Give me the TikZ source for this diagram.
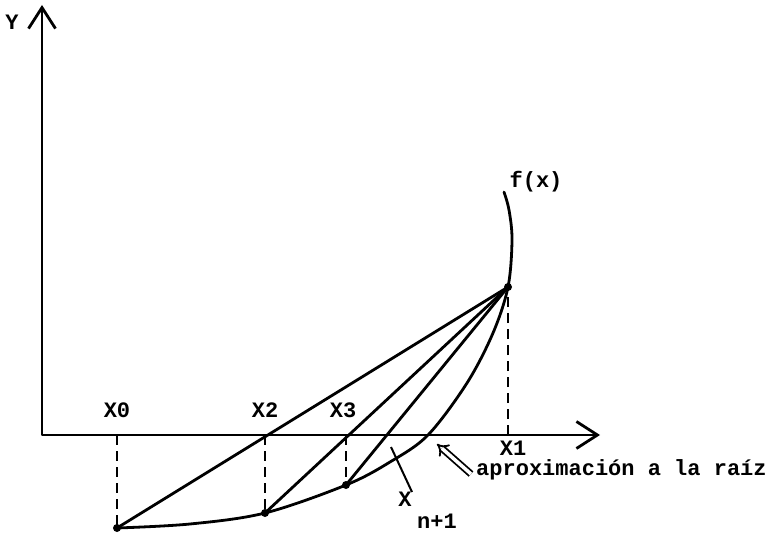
\documentclass[tikz,border=0pt]{standalone}
\usepackage{fontspec}
\setmonofont{Liberation Mono}
\usetikzlibrary{arrows.meta}
\begin{document}
\begin{tikzpicture}[x=1pt,y=-1pt,
  ln/.style={line width=2.8pt, line cap=round, line join=round},
  dsh/.style={line width=2.8pt, dash pattern=on 10pt off 6pt},
  lbl/.style={font=\ttfamily\bfseries\fontsize{22}{25}\selectfont, inner sep=0pt},
  pt/.style={circle, fill, inner sep=0pt, minimum size=8pt},
  barb/.tip={Straight Barb[length=21pt,width=27pt]}]
\useasboundingbox (0,0) rectangle (770,537);
% axes
\coordinate (O) at (42,435);
\coordinate (Ytop) at (42,5);
\coordinate (Xend) at (600,435);
\draw[ln, barb-barb] (Ytop) -- (O) -- (Xend);
% points
\node[pt] (P) at (508,287) {};
\node[pt] (B0) at (117,528) {};
\node[pt] (B2) at (265,513) {};
\node[pt] (B3) at (346,485) {};
\coordinate (A0) at (117,435);
\coordinate (A2) at (265,435);
\coordinate (A3) at (346,435);
\coordinate (A1) at (508,435);
% curve
\draw[ln] plot[smooth, tension=0.55] coordinates {(117,528) (190,524) (265,513) (346,485) (390,462) (428,435) (467,383) (493,333) (508,287) (512,240) (509,210) (504,192)};
% chords
\draw[ln] (P.center) -- (B0.center);
\draw[ln] (P.center) -- (B2.center);
\draw[ln] (P.center) -- (B3.center);
% dashed verticals
\draw[dsh] (A0) -- (B0.center);
\draw[dsh] (A2) -- (B2.center);
\draw[dsh] (A3) -- (B3.center);
\draw[dsh] (A1) -- (P.center);
% labels
\node[lbl] (lY) at (12,22) {Y};
\node[lbl] (lX0) at (117,410) {X0};
\node[lbl] (lX2) at (265,410) {X2};
\node[lbl] (lX3) at (343,410) {X3};
\node[lbl] (lX1) at (513,448) {X1};
\node[lbl] (lfx) at (536,182) {f(x)};
\node[lbl] (lXn) at (405,499) {X};
\node[lbl] (lXs) at (437,521) {n+1};
\node[lbl, anchor=west] (lap) at (476,470) {aproximación a la raíz};
% leader
\coordinate (L1) at (391,447);
\coordinate (L2) at (412,492);
\draw[line width=2pt] (L1) -- (L2);
% double arrow
\coordinate (D1) at (471,474);
\coordinate (D2) at (437,444);
\draw[line width=1.8pt, double, double distance=3.5pt, -{Implies}] (D1) -- (D2);
\end{tikzpicture}
\end{document}
